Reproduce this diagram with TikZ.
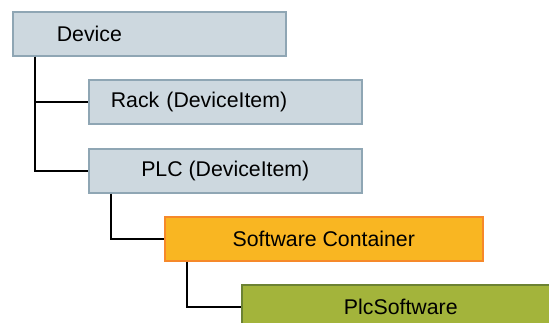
\documentclass[tikz,border=0pt]{standalone}
\usepackage{fontspec}
\setmainfont{Liberation Sans}
\usepackage{xcolor}
\usepackage{tikz}
\usetikzlibrary{positioning}

\definecolor{boxgray}{HTML}{CDD8DF}
\definecolor{edgegray}{HTML}{8FA6B4}
\definecolor{boxorange}{HTML}{F9B622}
\definecolor{edgeorange}{HTML}{F6892A}
\definecolor{boxgreen}{HTML}{A3B43B}
\definecolor{edgegreen}{HTML}{6C8233}

\begin{document}
\begin{tikzpicture}[
    x=1pt, y=-1pt,
    lbl/.style={font=\fontsize{21.3}{25}\selectfont},
    box_base/.style={lbl, anchor=north west, line width=1.6pt,
      minimum height=44pt, inner ysep=0pt},
    gray_box/.style={box_base, draw=edgegray, fill=boxgray, minimum width=273pt},
    orange_box/.style={box_base, draw=edgeorange, fill=boxorange, minimum width=318pt},
    green_box/.style={box_base, draw=edgegreen, fill=boxgreen, minimum width=318pt},
    link_style/.style={black, line width=1.6pt}
  ]

  % Bildens ram
  \clip (0,0) rectangle (549,322);

  % 1. Device och dess två DeviceItems
  \node[gray_box, align=left, inner xsep=44pt, text width=185pt] (dev) at (12,11) {Device};
  \node[gray_box, align=left, inner xsep=22pt, text width=229pt] (rack) at (88,79) {Rack (DeviceItem)};
  \node[gray_box] (plc) at (88,148) {PLC (DeviceItem)};

  % 2. Mjukvarunivåerna
  \node[orange_box] (swc) at (164,216) {Software Container};
  \node[green_box] (plcsw) at (241,284) {PlcSoftware};

  % 3. Förbindelser i trädet
  \draw[link_style] ([xshift=23pt]dev.south west) |- (rack.west);
  \draw[link_style] ([xshift=23pt]dev.south west) |- (plc.west);
  \draw[link_style] ([xshift=23pt]plc.south west) |- (swc.west);
  \draw[link_style] ([xshift=23pt]swc.south west) |- (plcsw.west);

\end{tikzpicture}
\end{document}
